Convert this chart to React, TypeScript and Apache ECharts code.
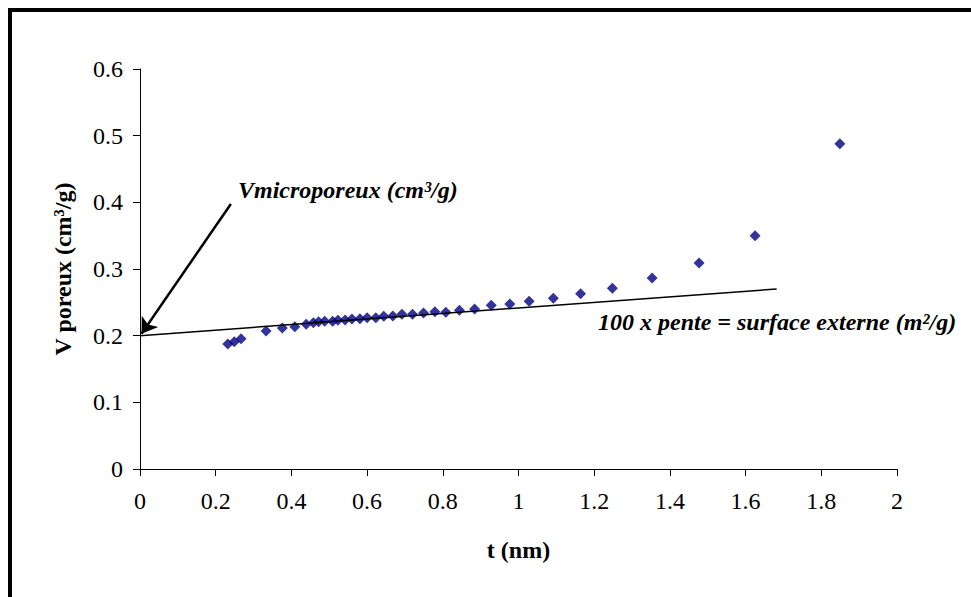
import React, { useEffect, useRef } from "react";
import * as echarts from "echarts";

const tValues = [
  0.232, 0.249, 0.267, 0.333, 0.376, 0.409, 0.439, 0.458, 0.472, 0.488, 0.509, 0.523,
  0.542, 0.56, 0.581, 0.6, 0.623, 0.644, 0.668, 0.692, 0.72, 0.749, 0.779, 0.808,
  0.844, 0.884, 0.928, 0.977, 1.028, 1.092, 1.164, 1.248, 1.353, 1.477, 1.625, 1.849,
];
const vValues = [
  0.1875, 0.191, 0.1955, 0.207, 0.2115, 0.2135, 0.217, 0.2195, 0.221, 0.2215, 0.2215, 0.223,
  0.2235, 0.225, 0.2255, 0.227, 0.227, 0.229, 0.2295, 0.232, 0.232, 0.234, 0.236, 0.235,
  0.238, 0.24, 0.2455, 0.2475, 0.2515, 0.256, 0.263, 0.271, 0.2865, 0.309, 0.35, 0.488,
];
const fitLineX = [0, 1.682];
const fitLineY = [0.2, 0.27];
const arrowFrom = [0.24, 0.3975];
const arrowTo = [0.004, 0.203];
const xTitle = "t (nm)";
const yTitle = "V poreux (cm³/g)";
const noteIntercept = "Vmicroporeux (cm³/g)";
const noteSlope = "100 x pente = surface externe (m²/g)";

const FONT = "Liberation Serif";

export default function App() {
  const ref = useRef<HTMLDivElement>(null);
  useEffect(() => {
    if (!ref.current) return;
    const chart = echarts.init(ref.current, undefined, { renderer: "svg" });
    const points = tValues.map((t, i) => [t, vValues[i]]);
    const line = fitLineX.map((x, i) => [x, fitLineY[i]]);
    chart.setOption({
      animation: false,
      backgroundColor: "#ffffff",
      textStyle: { fontFamily: FONT },
      grid: { left: 140, right: 74, top: 69, bottom: 128, containLabel: false },
      xAxis: {
        type: "value",
        min: 0,
        max: 2,
        interval: 0.2,
        name: xTitle,
        nameLocation: "middle",
        nameGap: 69,
        nameTextStyle: { fontFamily: FONT, fontWeight: "bold", fontSize: 24, color: "#000" },
        axisLine: { onZero: false, lineStyle: { color: "#000", width: 1 } },
        axisTick: { show: true, inside: false, length: 7, lineStyle: { color: "#000" } },
        axisLabel: { margin: 20, fontFamily: FONT, fontSize: 24, color: "#000" },
        splitLine: { show: false },
      },
      yAxis: {
        type: "value",
        min: 0,
        max: 0.6,
        interval: 0.1,
        name: yTitle,
        nameLocation: "middle",
        nameGap: 65,
        nameRotate: 90,
        nameTextStyle: { fontFamily: FONT, fontWeight: "bold", fontSize: 24, color: "#000" },
        axisLine: { onZero: false, lineStyle: { color: "#000", width: 1 } },
        axisTick: { show: true, inside: false, length: 7, lineStyle: { color: "#000" } },
        axisLabel: { margin: 17, fontFamily: FONT, fontSize: 24, color: "#000" },
        splitLine: { show: false },
      },
      series: [
        {
          type: "line",
          data: line,
          symbol: "none",
          lineStyle: { color: "#000", width: 1.5 },
          silent: true,
          z: 3,
          markLine: {
            silent: true,
            symbol: ["none", "arrow"],
            symbolSize: 15,
            label: { show: false },
            lineStyle: { color: "#000", width: 2.5, type: "solid" },
            data: [[{ coord: arrowFrom }, { coord: arrowTo }]],
          },
        },
        {
          type: "scatter",
          data: points,
          symbol: "diamond",
          symbolSize: 11,
          itemStyle: { color: "#000080" },
          z: 2,
        },
      ],
      graphic: [
        { type: "rect", shape: { x: 8, y: 8, width: 963, height: 4 }, style: { fill: "#000" } },
        { type: "rect", shape: { x: 8, y: 8, width: 4, height: 589 }, style: { fill: "#000" } },
        {
          type: "text",
          x: 238,
          y: 190,
          style: {
            text: noteIntercept,
            fontFamily: FONT,
            fontWeight: "bold",
            fontStyle: "italic",
            fontSize: 24,
            fill: "#000",
            verticalAlign: "middle",
          },
        },
        {
          type: "text",
          x: 598,
          y: 322,
          style: {
            text: noteSlope,
            fontFamily: FONT,
            fontWeight: "bold",
            fontStyle: "italic",
            fontSize: 24,
            fill: "#000",
            verticalAlign: "middle",
          },
        },
      ],
    });
    return () => chart.dispose();
  }, []);
  return (
    <div style={{ position: "fixed", left: 0, top: 0, width: 971, height: 597, background: "#fff" }}>
      <div ref={ref} style={{ width: 971, height: 597 }} />
    </div>
  );
}
